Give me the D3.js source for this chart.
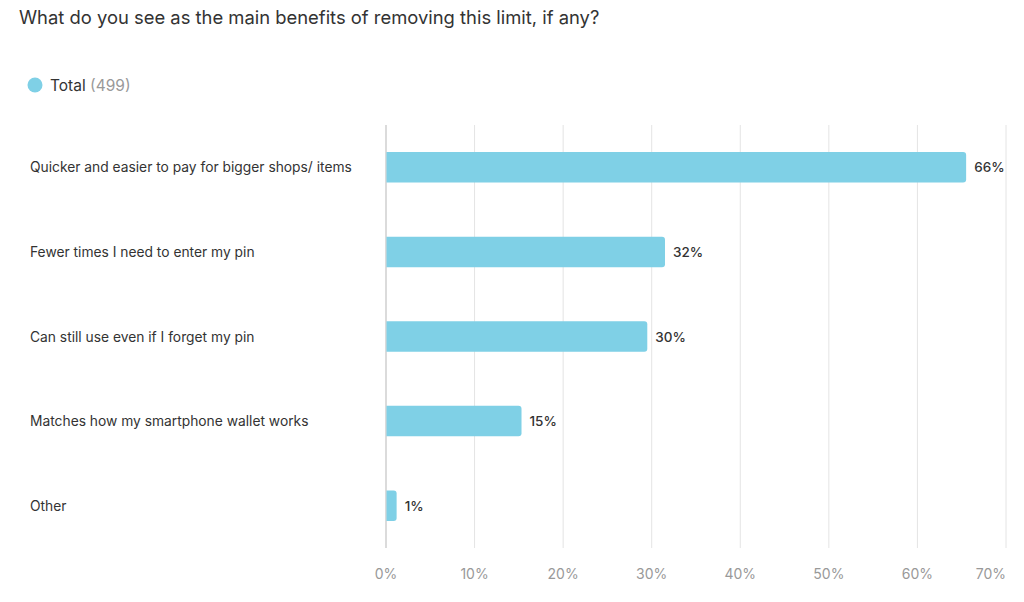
<!DOCTYPE html>
<html>
<head>
<meta charset="utf-8">
<script src="https://cdn.jsdelivr.net/npm/d3@7.9.0/dist/d3.min.js"></script>
<style>
  body { margin: 0; background: #fff; font-family: Inter, "Noto Sans", sans-serif; }
</style>
</head>
<body>
<svg id="chart" width="1024" height="602"></svg>
<script>
const categories = [
  "Quicker and easier to pay for bigger shops/ items",
  "Fewer times I need to enter my pin",
  "Can still use even if I forget my pin",
  "Matches how my smartphone wallet works",
  "Other"
];
const values = [65.5, 31.5, 29.5, 15.3, 1.2];
const ticks = [0, 10, 20, 30, 40, 50, 60, 70];
const seriesName = "Total";
const seriesCount = 499;

const svg = d3.select("#chart");

// title
svg.append("text")
  .attr("x", 19).attr("y", 24)
  .attr("font-size", 18.4).attr("fill", "#333")
  .text("What do you see as the main benefits of removing this limit, if any?");

// legend
const lg = svg.append("g").attr("transform", "translate(35,85)");
lg.append("circle").attr("r", 7.5).attr("fill", "#7fd0e6");
const lt = lg.append("text").attr("x", 15).attr("y", 5.5).attr("font-size", 15.5).attr("fill", "#333");
lt.append("tspan").text(seriesName + " ");
lt.append("tspan").attr("fill", "#999").text(`(${seriesCount})`);

const x = d3.scaleLinear().domain([0, 70]).range([386, 1006]);
const y = d3.scaleBand().domain(categories).range([125, 548]).paddingInner(0.64).paddingOuter(0.32);

// grid
svg.append("g").selectAll("line").data(ticks).join("line")
  .attr("x1", d => x(d)).attr("x2", d => x(d))
  .attr("y1", 125).attr("y2", 548)
  .attr("stroke", d => d === 0 ? "#cfcfcf" : "#e4e4e4")
  .attr("stroke-width", d => d === 0 ? 1.5 : 1);

// tick labels
svg.append("g").selectAll("text").data(ticks).join("text")
  .attr("x", d => x(d))
  .attr("y", 579)
  .attr("text-anchor", (d, i) => i === ticks.length - 1 ? "end" : "middle")
  .attr("font-size", 14).attr("fill", "#999")
  .text(d => d + "%");

// category labels
svg.append("g").selectAll("text").data(categories).join("text")
  .attr("x", 30).attr("y", d => y(d) + y.bandwidth() / 2 + 5)
  .attr("font-size", 13.8).attr("fill", "#333")
  .text(d => d);

// bars with rounded right end
const r = 3;
svg.append("g").selectAll("path").data(values).join("path")
  .attr("d", (v, i) => {
    const x0 = x(0) + 0.5, x1 = x(v), y0 = y(categories[i]), h = y.bandwidth();
    return `M${x0},${y0}H${x1 - r}Q${x1},${y0} ${x1},${y0 + r}V${y0 + h - r}Q${x1},${y0 + h} ${x1 - r},${y0 + h}H${x0}Z`;
  })
  .attr("fill", "#7fd0e6");

// value labels
svg.append("g").selectAll("text").data(values).join("text")
  .attr("x", v => x(v) + 8)
  .attr("y", (v, i) => y(categories[i]) + y.bandwidth() / 2 + 5)
  .attr("font-size", 13.5).attr("font-weight", 500).attr("fill", "#333")
  .text(v => Math.round(v) + "%");
</script>
</body>
</html>
